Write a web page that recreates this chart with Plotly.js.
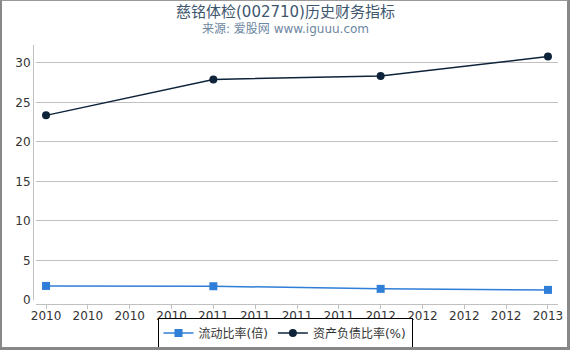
<!DOCTYPE html>
<html>
<head>
<meta charset="utf-8">
<script src="https://cdn.plot.ly/plotly-3.0.1.min.js"></script>
<style>
html,body{margin:0;padding:0;background:#fff;}
#wrap{position:relative;width:570px;height:350px;}
#chart{width:570px;height:350px;}
#frame{position:absolute;left:0;top:0;width:570px;height:350px;box-sizing:border-box;
border-top:1px solid #999;border-left:2px solid #888;border-right:3px solid #888;border-bottom:3px solid #888;pointer-events:none;}
</style>
</head>
<body>
<div id="wrap"><div id="chart"></div><div id="frame"></div></div>
<script>
var tickLabels = ["2010","2010","2010","2010","2011","2011","2011","2011","2012","2012","2012","2012","2013"];
var tickPositions = [0,1,2,3,4,5,6,7,8,9,10,11,12];
var periodPositions = [0,4,8,12];
var currentRatio = [1.78, 1.74, 1.41, 1.28];
var debtRatio = [23.35, 27.9, 28.33, 30.8];
var seriesNames = ["流动比率(倍)", "资产负债比率(%)"];

var FONT = "DejaVu Sans, Noto Sans CJK SC, sans-serif";

var traces = [
  {
    x: periodPositions, y: currentRatio, name: seriesNames[0],
    mode: "lines+markers", type: "scatter",
    line: {color: "#2f7ed8", width: 1.5},
    marker: {symbol: "square", size: 8, color: "#2f7ed8"}
  },
  {
    x: periodPositions, y: debtRatio, name: seriesNames[1],
    mode: "lines+markers", type: "scatter",
    line: {color: "#0d233a", width: 1.5},
    marker: {symbol: "circle", size: 8, color: "#0d233a"}
  }
];

var layout = {
  width: 570, height: 350,
  margin: {l: 0, r: 0, t: 0, b: 0},
  paper_bgcolor: "#fff", plot_bgcolor: "#fff",
  font: {family: FONT, size: 12, color: "#333"},
  showlegend: true,
  legend: {
    orientation: "h", x: 0.5, xanchor: "center", y: 0.004, yanchor: "bottom",
    bordercolor: "#000", borderwidth: 1, bgcolor: "#fff",
    font: {family: FONT, size: 12, color: "#333"},
    itemwidth: 30, tracegroupgap: 0
  },
  xaxis: {
    domain: [36/570, 558/570],
    range: [-0.24, 12.24],
    anchor: "free", position: (350-304)/350,
    tickmode: "array", tickvals: tickPositions, ticktext: tickLabels,
    showgrid: false, zeroline: false,
    showline: true, linecolor: "#c0c0c0", linewidth: 1,
    ticks: "outside", ticklen: 4, tickcolor: "#c0c0c0",
    ticklabelstandoff: -3,
    tickfont: {family: FONT, size: 12, color: "#333"}
  },
  yaxis: {
    domain: [50/350, 305/350],
    range: [0, 32.25],
    anchor: "free", position: 33/570,
    tickmode: "array", tickvals: [0,5,10,15,20,25,30],
    showgrid: true, gridcolor: "#c0c0c0", gridwidth: 1,
    zeroline: false,
    showline: true, linecolor: "#c0c0c0", linewidth: 1,
    ticks: "",
    tickfont: {family: FONT, size: 12, color: "#333"}
  },
  annotations: [
    {text: "慈铭体检(002710)历史财务指标", xref: "paper", yref: "paper",
     x: 0.5, y: (350-12)/350, xanchor: "center", yanchor: "middle", showarrow: false,
     font: {family: FONT, size: 15, color: "#3e576f"}},
    {text: "来源: 爱股网 www.iguuu.com", xref: "paper", yref: "paper",
     x: 0.5, y: (350-29)/350, xanchor: "center", yanchor: "middle", showarrow: false,
     font: {family: FONT, size: 12, color: "#6d869f"}}
  ]
};

Plotly.newPlot("chart", traces, layout, {displayModeBar: false, staticPlot: true});
</script>
</body>
</html>
